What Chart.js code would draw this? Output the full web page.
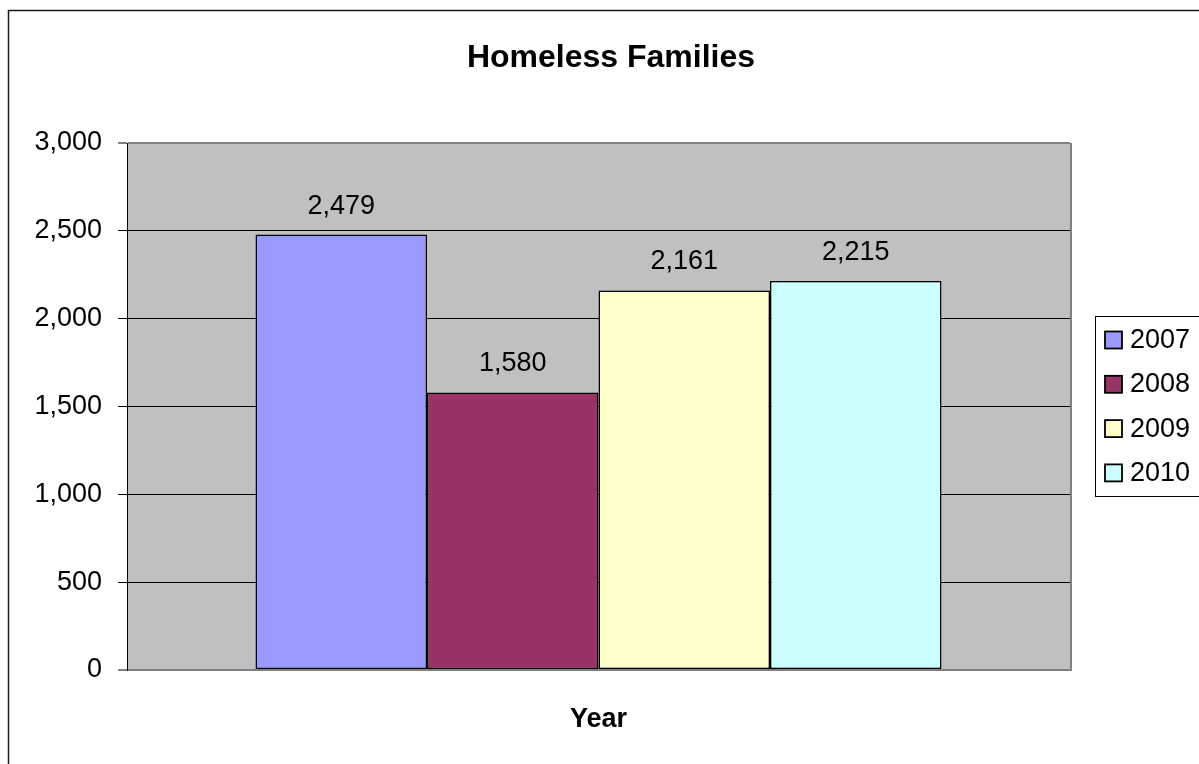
<!DOCTYPE html>
<html>
<head>
<meta charset="utf-8">
<title>Homeless Families</title>
<script src="https://cdn.jsdelivr.net/npm/chart.js@4/dist/chart.umd.min.js"></script>
<style>
  html, body { margin: 0; padding: 0; background: #fff; }
  #wrap { width: 1199px; height: 764px; }
</style>
</head>
<body>
<div id="wrap"><canvas id="chart" width="1199" height="764"></canvas></div>
<script>
// Chart values
const chartTitle = 'Homeless Families';
const axisTitle = 'Year';
const categories = [''];
const years = ['2007', '2008', '2009', '2010'];
const families = [2479, 1580, 2161, 2215];
const yearColors = ['#9999FF', '#993366', '#FFFFCC', '#CCFFFF'];
const yTickValues = [0, 500, 1000, 1500, 2000, 2500, 3000];

const FONT = "'Liberation Sans', Arial, sans-serif";
const fmt = v => Number(v).toLocaleString('en-US');

const datasets = years.map((y, i) => ({
  label: y,
  data: [families[i]],
  backgroundColor: yearColors[i],
  borderColor: '#000000',
  borderWidth: 1.5,
  borderSkipped: false,
  categoryPercentage: 0.7275,
  barPercentage: 1.0
}));

// Frame, plot background and right edge of the plot area
const framePlugin = {
  id: 'frame',
  beforeDraw(chart) {
    const { ctx, chartArea: a } = chart;
    ctx.save();
    ctx.fillStyle = '#ffffff';
    ctx.fillRect(0, 0, chart.width, chart.height);
    ctx.strokeStyle = '#1a1a1a';
    ctx.lineWidth = 1.5;
    ctx.strokeRect(8.5, 10.5, 1220, 800);
    ctx.fillStyle = '#C0C0C0';
    ctx.fillRect(a.left, a.top, a.right - a.left, a.bottom - a.top);
    ctx.restore();
  },
  beforeDatasetsDraw(chart) {
    const { ctx, chartArea: a } = chart;
    ctx.save();
    ctx.strokeStyle = '#808080';
    ctx.lineWidth = 2;
    ctx.beginPath();
    ctx.moveTo(a.right + 1, a.top);
    ctx.lineTo(a.right + 1, a.bottom + 1);
    ctx.stroke();
    ctx.restore();
  }
};

// Titles, value labels and the boxed legend
const textPlugin = {
  id: 'texts',
  afterDatasetsDraw(chart) {
    const { ctx, chartArea: a } = chart;
    ctx.save();
    ctx.fillStyle = '#000';

    ctx.font = 'bold 32px ' + FONT;
    ctx.textAlign = 'center';
    ctx.textBaseline = 'alphabetic';
    ctx.fillText(chartTitle, 611, 67);

    ctx.font = 'bold 27px ' + FONT;
    ctx.fillText(axisTitle, (a.left + a.right) / 2, 727);

    ctx.font = '27px ' + FONT;
    chart.data.datasets.forEach((ds, i) => {
      const bar = chart.getDatasetMeta(i).data[0];
      ctx.fillText(fmt(ds.data[0]), bar.x, bar.y - 21);
    });

    // legend
    ctx.strokeStyle = '#000';
    ctx.lineWidth = 1;
    ctx.strokeRect(1095.5, 316.5, 140, 180);
    ctx.textAlign = 'left';
    ctx.textBaseline = 'middle';
    const rowY0 = 339.5, rowGap = 44.3;
    chart.data.datasets.forEach((ds, i) => {
      const cy = rowY0 + i * rowGap;
      ctx.fillStyle = ds.backgroundColor;
      ctx.fillRect(1105, cy - 8, 17, 17);
      ctx.lineWidth = 1.8;
      ctx.strokeStyle = '#000';
      ctx.strokeRect(1105, cy - 8, 17, 17);
      ctx.fillStyle = '#000';
      ctx.fillText(ds.label, 1130, cy + 1);
    });
    ctx.restore();
  }
};

new Chart(document.getElementById('chart'), {
  type: 'bar',
  data: { labels: categories, datasets },
  options: {
    responsive: false,
    animation: false,
    devicePixelRatio: 1,
    layout: { padding: { left: 0, top: 143, right: 129, bottom: 94 } },
    plugins: {
      legend: { display: false },
      title: { display: false },
      tooltip: { enabled: false }
    },
    scales: {
      x: {
        display: false,
        grid: { display: false }
      },
      y: {
        min: 0,
        max: 3000,
        afterBuildTicks: scale => { scale.ticks = yTickValues.map(v => ({ value: v })); },
        afterFit: scale => { scale.width = 127; },
        border: { display: true, color: '#000', width: 1 },
        grid: {
          color: c => (c.tick && (c.tick.value === 0 || c.tick.value === 3000)) ? '#808080' : '#000',
          lineWidth: c => (c.tick && (c.tick.value === 0 || c.tick.value === 3000)) ? 2 : 1,
          drawTicks: true,
          tickLength: 9,
          tickColor: '#000',
          tickWidth: 1
        },
        ticks: {
          padding: 16,
          color: '#000',
          font: { family: FONT, size: 27 },
          callback: v => fmt(v)
        }
      }
    }
  },
  plugins: [framePlugin, textPlugin]
});
</script>
</body>
</html>
